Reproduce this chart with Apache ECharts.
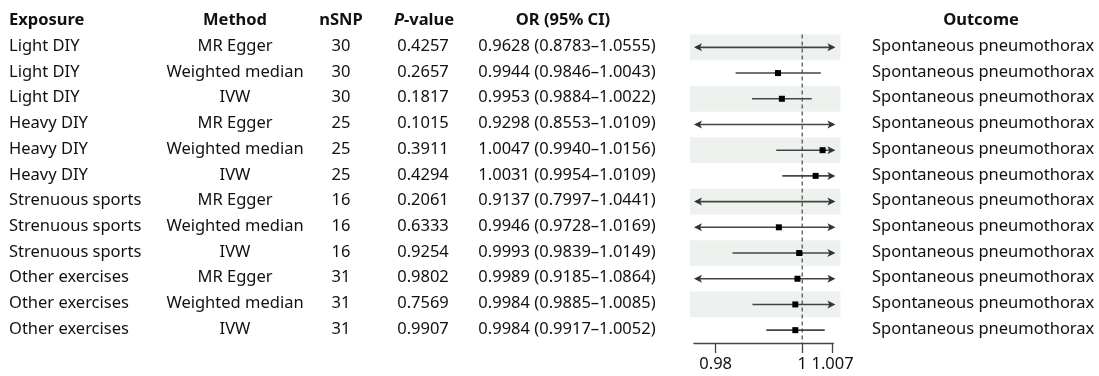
<!DOCTYPE html>
<html>
<head>
<meta charset="utf-8">
<script src="https://cdn.jsdelivr.net/npm/echarts@6/dist/echarts.min.js"></script>
<style>
html,body{margin:0;padding:0;background:#fff;}
#main{width:1099px;height:376px;}
</style>
</head>
<body>
<div id="main"></div>
<script>
// ---- data ----
var exposures = ["Light DIY","Light DIY","Light DIY","Heavy DIY","Heavy DIY","Heavy DIY",
  "Strenuous sports","Strenuous sports","Strenuous sports","Other exercises","Other exercises","Other exercises"];
var methods = ["MR Egger","Weighted median","IVW","MR Egger","Weighted median","IVW",
  "MR Egger","Weighted median","IVW","MR Egger","Weighted median","IVW"];
var nSNP = [30,30,30,25,25,25,16,16,16,31,31,31];
var pValues = ["0.4257","0.2657","0.1817","0.1015","0.3911","0.4294","0.2061","0.6333","0.9254","0.9802","0.7569","0.9907"];
var orEst = [0.9628,0.9944,0.9953,0.9298,1.0047,1.0031,0.9137,0.9946,0.9993,0.9989,0.9984,0.9984];
var ciLow = [0.8783,0.9846,0.9884,0.8553,0.9940,0.9954,0.7997,0.9728,0.9839,0.9185,0.9885,0.9917];
var ciHigh = [1.0555,1.0043,1.0022,1.0109,1.0156,1.0109,1.0441,1.0169,1.0149,1.0864,1.0085,1.0052];
var outcomes = ["Spontaneous pneumothorax","Spontaneous pneumothorax","Spontaneous pneumothorax",
  "Spontaneous pneumothorax","Spontaneous pneumothorax","Spontaneous pneumothorax",
  "Spontaneous pneumothorax","Spontaneous pneumothorax","Spontaneous pneumothorax",
  "Spontaneous pneumothorax","Spontaneous pneumothorax","Spontaneous pneumothorax"];
var tickValues = [0.98, 1, 1.007];
var refValue = 1;
var headers = ["Exposure","Method","nSNP","P-value","OR (95% CI)","Outcome"];

function fmt(v){ return v.toFixed(4); }
var orText = orEst.map(function(v,i){ return fmt(v)+" ("+fmt(ciLow[i])+"\u2013"+fmt(ciHigh[i])+")"; });

var rows = exposures.map(function(_,i){ return i; });
var ciData = rows.map(function(i){ return [orEst[i], ciLow[i], ciHigh[i], i]; });
var bandData = rows.filter(function(i){ return i % 2 === 0; }).map(function(i){ return [refValue, i]; });

var FONT = "'Noto Sans', 'Open Sans', sans-serif";
var FS = 16.5;
var TXT = '#111';
var LINE = '#444';

var chart = echarts.init(document.getElementById('main'), null, {renderer:'canvas'});

var option = {
  animation: false,
  backgroundColor: '#fff',
  grid: { left: 694, right: 265.6, top: 34.5, bottom: 33, containLabel: false },
  xAxis: {
    type: 'value', min: 0.975, max: 1.0072,
    splitLine: { show: false },
    axisLine: { show: true, onZero: false, lineStyle: { color: LINE, width: 1.3 } },
    axisTick: { show: true, length: 10, customValues: tickValues, lineStyle: { color: LINE, width: 1.3 } },
    axisLabel: { customValues: tickValues, margin: 13, fontFamily: FONT, fontSize: FS, color: TXT,
      formatter: function(v){ return String(Math.round(v*1000)/1000); } }
  },
  yAxis: {
    type: 'value', inverse: true, min: -0.5, max: 11.5,
    show: false, splitLine: { show: false }
  },
  series: [
    {
      type: 'custom', name: 'bands', silent: true, clip: false, z: 1,
      data: bandData,
      renderItem: function(params, api){
        var cs = params.coordSys;
        var c = api.coord([api.value(0), api.value(1)]);
        var h = Math.abs(api.size([0, 1])[1]);
        return { type: 'rect', shape: { x: cs.x - 4, y: c[1] - h/2, width: cs.width + 11, height: h },
          style: { fill: '#eef2ee' } };
      }
    },
    {
      type: 'custom', name: 'ref', silent: true, clip: false, z: 2,
      data: [[refValue, 0]],
      renderItem: function(params, api){
        var cs = params.coordSys;
        var x = api.coord([api.value(0), 0])[0];
        return { type: 'line', shape: { x1: x, y1: cs.y, x2: x, y2: cs.y + cs.height },
          style: { stroke: '#555', lineWidth: 1.3, lineDash: [4, 3] } };
      }
    },
    {
      type: 'custom', name: 'ci', silent: true, clip: false, z: 3,
      data: ciData,
      renderItem: function(params, api){
        var cs = params.coordSys;
        var left = cs.x, right = cs.x + cs.width;
        var row = api.value(3);
        var est = api.value(0), lo = api.value(1), hi = api.value(2);
        var y = api.coord([est, row])[1];
        var xl = api.coord([lo, row])[0], xh = api.coord([hi, row])[0], xe = api.coord([est, row])[0];
        var clipL = xl < left, clipR = xh > right + 1.5;
        var x1 = clipL ? left : xl, x2 = clipR ? right + 2 : xh;
        var ch = [{ type: 'line', shape: { x1: x1 + (clipL ? 2 : 0), y1: y, x2: x2 - (clipR ? 2 : 0), y2: y }, style: { stroke: LINE, lineWidth: 1.6 } }];
        var aw = 8, ah = 4;
        if (clipL) ch.push({ type: 'polygon', shape: { points: [[x1, y],[x1+aw, y-ah],[x1+aw-2, y],[x1+aw, y+ah]] }, style: { fill: '#333' } });
        if (clipR) ch.push({ type: 'polygon', shape: { points: [[x2, y],[x2-aw, y-ah],[x2-aw+2, y],[x2-aw, y+ah]] }, style: { fill: '#333' } });
        if (xe >= left && xe <= right) ch.push({ type: 'rect', shape: { x: xe - 3, y: y - 3, width: 6, height: 6 }, style: { fill: '#000' } });
        return { type: 'group', children: ch };
      }
    }
  ]
};
chart.setOption(option);

// table text placed on the same row scale as the forest rows
var colX = [9, 235, 341, 423, 567, 872];
var colAlign = ['left','center','center','center','center','left'];
var headerX = [9, 235, 341, 424, 563, 981];
var headerAlign = ['left','center','center','center','center','center'];
var g = [];
var headerY = 20;
headers.forEach(function(h, k){
  if (k === 3) {
    g.push({ type: 'text', x: headerX[k], y: headerY, style: {
      text: '{i|P}{b|-value}', align: 'center', verticalAlign: 'middle',
      rich: { i: { fontFamily: FONT, fontSize: FS, fontWeight: 'bold', fontStyle: 'italic', fill: TXT },
              b: { fontFamily: FONT, fontSize: FS, fontWeight: 'bold', fill: TXT } } } });
  } else {
    g.push({ type: 'text', x: headerX[k], y: headerY, style: {
      text: h, font: 'bold ' + FS + 'px ' + FONT, fill: TXT, align: headerAlign[k], verticalAlign: 'middle' } });
  }
});
var cols = [exposures, methods, nSNP.map(String), pValues, orText, outcomes];
rows.forEach(function(i){
  var y = chart.convertToPixel({ gridIndex: 0 }, [refValue, i])[1];
  cols.forEach(function(col, k){
    g.push({ type: 'text', x: colX[k], y: y - 1, style: {
      text: col[i], font: FS + 'px ' + FONT, fill: TXT, align: colAlign[k], verticalAlign: 'middle' } });
  });
});
chart.setOption({ graphic: { elements: g } });
</script>
</body>
</html>
